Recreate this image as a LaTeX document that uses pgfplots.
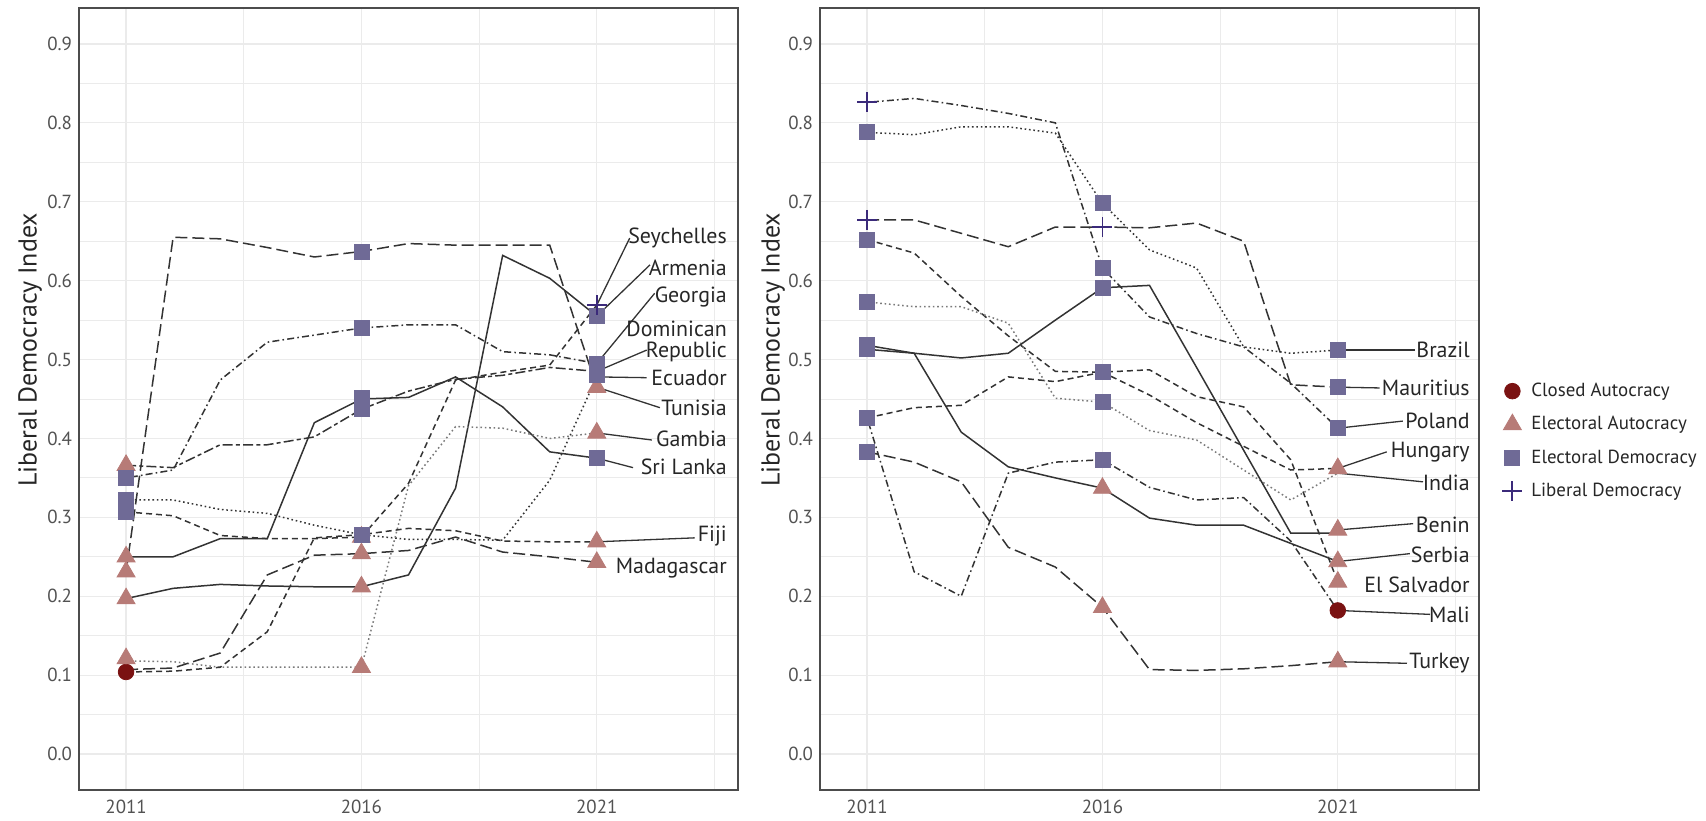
\documentclass[border=0pt]{standalone}
\usepackage{pgfplots}
\pgfplotsset{compat=1.18}
\usepackage{fontspec}
\setmainfont{PT Sans}
\definecolor{cac}{HTML}{7A1212}
\definecolor{eac}{HTML}{B77B77}
\definecolor{edc}{HTML}{6F6A96}
\definecolor{ldc}{HTML}{3B2A7A}
\definecolor{gridc}{HTML}{EBEBEB}
\definecolor{linec}{HTML}{333333}
\definecolor{lineg}{HTML}{7A7A7A}
\pgfplotsset{
  panel/.style={
    width=329.5bp, height=391bp, scale only axis,
    xmin=2010, xmax=2024, ymin=-0.0456, ymax=0.9456,
    xtick={2011,2016,2021}, minor xtick={2013.5,2018.5,2023.5},
    ytick={0,0.1,0.2,0.3,0.4,0.5,0.6,0.7,0.8,0.9},
    minor ytick={0.05,0.15,0.25,0.35,0.45,0.55,0.65,0.75,0.85},
    grid=both,
    major grid style={color=gridc, line width=0.6bp},
    minor grid style={color=gridc, line width=0.45bp},
    axis line style={draw=black!70, line width=0.9bp},
    major tick length=0pt, minor tick length=0pt,
    tick style={draw=none},
    /pgf/number format/assume math mode=true,
    ticklabel style={font=\fontsize{9.5}{11}\selectfont, text=black!68},
    xticklabel style={/pgf/number format/1000 sep={}, yshift=-1.5bp},
    yticklabel style={/pgf/number format/fixed, /pgf/number format/fixed zerofill, /pgf/number format/precision=1},
    clip=false,
  },
  ln/.style={color=linec, line width=0.75bp, no marks, forget plot},
  sld/.style={ln, solid},
  lng/.style={ln, dash pattern=on 6bp off 2.5bp},
  dsh/.style={ln, dash pattern=on 3bp off 2bp},
  dtt/.style={ln, dash pattern=on 0.8bp off 1.4bp},
  dtg/.style={ln, color=lineg, dash pattern=on 0.8bp off 1.4bp},
  ddh/.style={ln, dash pattern=on 0.8bp off 1.6bp on 3.5bp off 1.6bp},
  tdh/.style={ln, dash pattern=on 5bp off 1.6bp on 2bp off 1.6bp},
  conn/.style={color=black!80, line width=0.65bp, solid, no marks, forget plot},
  mkC/.style={only marks, mark=*, mark size=3.9bp, color=cac, mark options={solid}},
  mkT/.style={only marks, mark=triangle*, mark size=5.2bp, color=eac, mark options={solid}},
  mkS/.style={only marks, mark=square*, mark size=3.75bp, color=edc, mark options={solid}},
  mkX/.style={only marks, mark=+, mark size=5bp, color=ldc, mark options={solid, line width=0.9bp}},
}
\tikzset{lab/.style={anchor=east, font=\fontsize{11}{11}\selectfont, text=black!85, inner sep=0pt, align=right}}
\begin{document}
\begin{tikzpicture}
\path[use as bounding box] (0,0) rectangle (853bp,410.5bp);
% ---------------- left panel ----------------
\begin{axis}[panel, at={(39.5bp,15.5bp)}, anchor=south west]
% Tunisia
\addplot[lng] coordinates {(2011,0.231) (2012,0.655) (2013,0.653) (2014,0.642) (2015,0.630) (2016,0.637) (2017,0.647) (2018,0.645) (2019,0.645) (2020,0.645) (2021,0.465)};
% Georgia
\addplot[ddh] coordinates {(2011,0.350) (2012,0.360) (2013,0.474) (2014,0.522) (2015,0.531) (2016,0.540) (2017,0.544) (2018,0.544) (2019,0.510) (2020,0.506) (2021,0.495)};
% Dominican Republic
\addplot[tdh] coordinates {(2011,0.366) (2012,0.363) (2013,0.392) (2014,0.392) (2015,0.402) (2016,0.437) (2017,0.460) (2018,0.475) (2019,0.480) (2020,0.490) (2021,0.485)};
% Sri Lanka
\addplot[sld] coordinates {(2011,0.250) (2012,0.250) (2013,0.273) (2014,0.273) (2015,0.420) (2016,0.450) (2017,0.452) (2018,0.478) (2019,0.440) (2020,0.383) (2021,0.375)};
% Armenia
\addplot[sld] coordinates {(2011,0.197) (2012,0.210) (2013,0.215) (2014,0.213) (2015,0.212) (2016,0.212) (2017,0.227) (2018,0.337) (2019,0.632) (2020,0.603) (2021,0.555)};
% Ecuador
\addplot[dtt] coordinates {(2011,0.322) (2012,0.322) (2013,0.310) (2014,0.305) (2015,0.290) (2016,0.278) (2017,0.272) (2018,0.272) (2019,0.271) (2020,0.347) (2021,0.478)};
% Seychelles
\addplot[dsh] coordinates {(2011,0.307) (2012,0.302) (2013,0.277) (2014,0.273) (2015,0.273) (2016,0.275) (2017,0.343) (2018,0.474) (2019,0.484) (2020,0.493) (2021,0.569)};
% Gambia
\addplot[dtg] coordinates {(2011,0.118) (2012,0.117) (2013,0.110) (2014,0.110) (2015,0.110) (2016,0.110) (2017,0.340) (2018,0.415) (2019,0.413) (2020,0.400) (2021,0.407)};
% Fiji
\addplot[dsh] coordinates {(2011,0.104) (2012,0.105) (2013,0.110) (2014,0.155) (2015,0.274) (2016,0.278) (2017,0.286) (2018,0.283) (2019,0.270) (2020,0.269) (2021,0.269)};
% Madagascar
\addplot[lng] coordinates {(2011,0.107) (2012,0.109) (2013,0.128) (2014,0.227) (2015,0.252) (2016,0.254) (2017,0.258) (2018,0.275) (2019,0.256) (2020,0.250) (2021,0.243)};
% connectors
\addplot[conn] coordinates {(2021,0.569) (2021.70,0.654)};
\addplot[conn] coordinates {(2021,0.555) (2022.13,0.620)};
\addplot[conn] coordinates {(2021,0.495) (2022.23,0.584)};
\addplot[conn] coordinates {(2021,0.485) (2022.06,0.512)};
\addplot[conn] coordinates {(2021,0.478) (2022.06,0.477)};
\addplot[conn] coordinates {(2021,0.465) (2022.34,0.439)};
\addplot[conn] coordinates {(2021,0.407) (2022.17,0.398)};
\addplot[conn] coordinates {(2021,0.375) (2021.77,0.363)};
\addplot[conn] coordinates {(2021,0.269) (2023.08,0.274)};
% markers
\addplot[mkC, forget plot] coordinates {(2011,0.104)};
\addplot[mkT, forget plot] coordinates {(2011,0.366) (2011,0.250) (2011,0.231) (2011,0.197) (2011,0.121) (2016,0.275) (2016,0.254) (2016,0.212) (2016,0.110) (2021,0.465) (2021,0.407) (2021,0.269) (2021,0.243)};
\addplot[mkS, forget plot] coordinates {(2011,0.350) (2011,0.322) (2011,0.307) (2016,0.637) (2016,0.540) (2016,0.451) (2016,0.437) (2016,0.278) (2021,0.555) (2021,0.495) (2021,0.480) (2021,0.375)};
\addplot[mkX, forget plot] coordinates {(2021,0.569)};
% labels
\node[lab] at (axis cs:2023.77,0.654) {Seychelles};
\node[lab] at (axis cs:2023.77,0.616) {Armenia};
\node[lab] at (axis cs:2023.77,0.579) {Georgia};
\node[lab] at (axis cs:2023.77,0.523) {Dominican\\Republic};
\node[lab] at (axis cs:2023.77,0.477) {Ecuador};
\node[lab] at (axis cs:2023.77,0.439) {Tunisia};
\node[lab] at (axis cs:2023.77,0.400) {Gambia};
\node[lab] at (axis cs:2023.77,0.364) {Sri Lanka};
\node[lab] at (axis cs:2023.77,0.276) {Fiji};
\node[lab] at (axis cs:2023.77,0.236) {Madagascar};
\end{axis}
% ---------------- right panel ----------------
\begin{axis}[panel, at={(410bp,15.5bp)}, anchor=south west,
  legend style={at={(1,0.446)}, anchor=west, xshift=8.5bp, draw=none, fill=none,
    font=\fontsize{9.5}{11.5}\selectfont, text=black!85, row sep=4.5bp,
    /tikz/every odd column/.append style={column sep=2.5bp}},
  legend cell align=left]
% Poland
\addplot[ddh] coordinates {(2011,0.826) (2012,0.831) (2013,0.822) (2014,0.812) (2015,0.800) (2016,0.616) (2017,0.554) (2018,0.533) (2019,0.516) (2020,0.470) (2021,0.413)};
% Brazil
\addplot[dtt] coordinates {(2011,0.788) (2012,0.785) (2013,0.795) (2014,0.795) (2015,0.787) (2016,0.698) (2017,0.639) (2018,0.616) (2019,0.516) (2020,0.508) (2021,0.512)};
% Mauritius
\addplot[lng] coordinates {(2011,0.677) (2012,0.677) (2013,0.660) (2014,0.643) (2015,0.668) (2016,0.668) (2017,0.667) (2018,0.673) (2019,0.650) (2020,0.468) (2021,0.465)};
% Hungary
\addplot[dsh] coordinates {(2011,0.652) (2012,0.635) (2013,0.580) (2014,0.530) (2015,0.485) (2016,0.484) (2017,0.455) (2018,0.420) (2019,0.390) (2020,0.360) (2021,0.362)};
% India
\addplot[dtg] coordinates {(2011,0.573) (2012,0.567) (2013,0.567) (2014,0.546) (2015,0.451) (2016,0.446) (2017,0.410) (2018,0.398) (2019,0.360) (2020,0.322) (2021,0.356)};
% Benin
\addplot[sld] coordinates {(2011,0.513) (2012,0.508) (2013,0.502) (2014,0.508) (2015,0.550) (2016,0.591) (2017,0.594) (2018,0.490) (2019,0.385) (2020,0.280) (2021,0.280)};
% Serbia
\addplot[sld] coordinates {(2011,0.518) (2012,0.508) (2013,0.408) (2014,0.364) (2015,0.350) (2016,0.337) (2017,0.299) (2018,0.290) (2019,0.290) (2020,0.267) (2021,0.244)};
% El Salvador
\addplot[dsh] coordinates {(2011,0.426) (2012,0.439) (2013,0.442) (2014,0.478) (2015,0.472) (2016,0.484) (2017,0.487) (2018,0.453) (2019,0.440) (2020,0.373) (2021,0.218)};
% Mali
\addplot[ddh] coordinates {(2011,0.426) (2012,0.231) (2013,0.200) (2014,0.356) (2015,0.370) (2016,0.373) (2017,0.338) (2018,0.322) (2019,0.325) (2020,0.270) (2021,0.182)};
% Turkey
\addplot[lng] coordinates {(2011,0.383) (2012,0.370) (2013,0.345) (2014,0.262) (2015,0.237) (2016,0.186) (2017,0.107) (2018,0.106) (2019,0.108) (2020,0.112) (2021,0.117)};
% connectors
\addplot[conn] coordinates {(2021,0.512) (2022.64,0.512)};
\addplot[conn] coordinates {(2021,0.465) (2021.89,0.464)};
\addplot[conn] coordinates {(2021,0.413) (2022.38,0.422)};
\addplot[conn] coordinates {(2021,0.362) (2022.04,0.383)};
\addplot[conn] coordinates {(2021,0.356) (2022.81,0.345)};
\addplot[conn] coordinates {(2021,0.284) (2022.60,0.292)};
\addplot[conn] coordinates {(2021,0.244) (2022.53,0.254)};
\addplot[conn] coordinates {(2021,0.182) (2022.96,0.177)};
\addplot[conn] coordinates {(2021,0.117) (2022.47,0.115)};
% markers
\addplot[mkC] coordinates {(2021,0.182)};
\addlegendentry{Closed Autocracy}
\addplot[mkT] coordinates {(2016,0.337) (2016,0.186) (2021,0.362) (2021,0.284) (2021,0.244) (2021,0.218) (2021,0.117)};
\addlegendentry{Electoral Autocracy}
\addplot[mkS] coordinates {(2011,0.788) (2011,0.652) (2011,0.573) (2011,0.518) (2011,0.513) (2011,0.426) (2011,0.383) (2016,0.698) (2016,0.616) (2016,0.591) (2016,0.484) (2016,0.446) (2016,0.373) (2021,0.512) (2021,0.465) (2021,0.413)};
\addlegendentry{Electoral Democracy}
\addplot[mkX] coordinates {(2011,0.826) (2011,0.677) (2016,0.668)};
\addlegendentry{Liberal Democracy}
% labels
\node[lab] at (axis cs:2023.81,0.512) {Brazil};
\node[lab] at (axis cs:2023.81,0.464) {Mauritius};
\node[lab] at (axis cs:2023.81,0.422) {Poland};
\node[lab] at (axis cs:2023.81,0.382) {Hungary};
\node[lab] at (axis cs:2023.81,0.344) {India};
\node[lab] at (axis cs:2023.81,0.290) {Benin};
\node[lab] at (axis cs:2023.81,0.252) {Serbia};
\node[lab] at (axis cs:2023.81,0.214) {El Salvador};
\node[lab] at (axis cs:2023.81,0.177) {Mali};
\node[lab] at (axis cs:2023.81,0.115) {Turkey};
\end{axis}
\node[rotate=90, font=\fontsize{13}{13}\selectfont, text=black!85] at (15bp,235.5bp) {Liberal Democracy Index};
\node[rotate=90, font=\fontsize{13}{13}\selectfont, text=black!85] at (386.5bp,235.5bp) {Liberal Democracy Index};
\end{tikzpicture}
\end{document}
